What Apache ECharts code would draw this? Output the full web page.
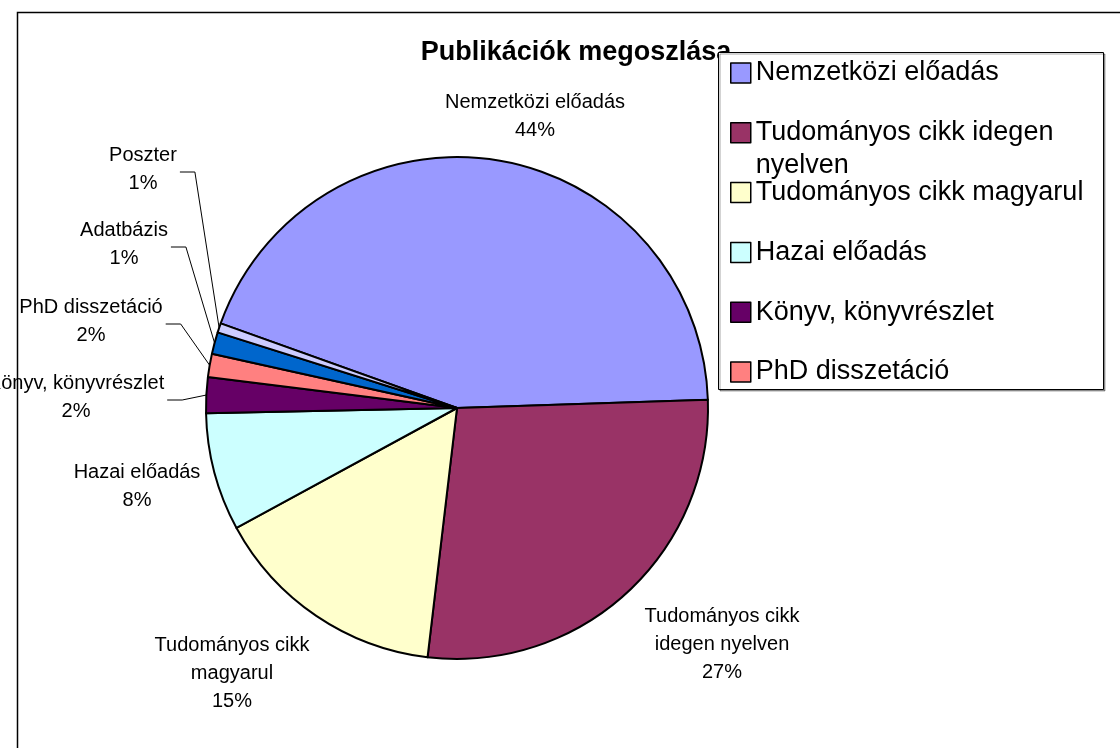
<!DOCTYPE html>
<html>
<head>
<meta charset="utf-8">
<script src="https://cdn.jsdelivr.net/npm/echarts@6/dist/echarts.min.js"></script>
<style>
html,body{margin:0;padding:0;background:#fff;}
#chart{width:1120px;height:748px;}
</style>
</head>
<body>
<div id="chart"></div>
<script>
// ---- data ----
const chartTitle = 'Publikációk megoszlása';
const categories = ['Nemzetközi előadás', 'Tudományos cikk idegen nyelven', 'Tudományos cikk magyarul', 'Hazai előadás', 'Könyv, könyvrészlet', 'PhD disszetáció', 'Adatbázis', 'Poszter'];
const shares = [44.0, 27.4, 15.2, 7.6, 2.3, 1.5, 1.4, 0.6];
const legendCount = 6; // the legend box only shows the first six entries

// ---- styling / layout ----
const colors = ['#9999FF', '#993366', '#FFFFCC', '#CCFFFF', '#660066', '#FF8080', '#0066CC', '#CCCCFF'];
const labelCenters = [[535, 116], [722, 644], [232, 673], [137, 486], [76, 397], [91, 321], [124, 244], [143, 169]];
const hasLeader = [false, false, false, false, true, true, true, true];
const FONT = '"Liberation Sans", Arial, sans-serif';

const measureCtx = document.createElement('canvas').getContext('2d');
function wrapText(text, font, maxWidth) {
  measureCtx.font = font;
  const words = text.split(' ');
  const lines = [];
  let cur = '';
  for (const w of words) {
    const test = cur ? cur + ' ' + w : w;
    if (cur && measureCtx.measureText(test).width > maxWidth) { lines.push(cur); cur = w; }
    else cur = test;
  }
  if (cur) lines.push(cur);
  return lines;
}

const chart = echarts.init(document.getElementById('chart'), null, {renderer: 'canvas'});

const pieData = categories.map((name, i) => ({
  name: name,
  value: shares[i],
  itemStyle: {color: colors[i]},
  labelLine: {show: hasLeader[i]}
}));

const legendLineH = 33;
const legendFont = 27;
const legends = categories.slice(0, legendCount).map((name, i) => {
  const lines = wrapText(name, legendFont + 'px "Liberation Sans"', 345);
  const n = lines.length;
  const text = new Array(n - 1).fill(' ').concat(lines).join('\n');
  const h = (2 * n - 1) * legendLineH;
  return {
    data: [name],
    orient: 'vertical',
    left: 730,
    top: 73 + 59.8 * i - h / 2,
    padding: 0,
    itemWidth: 20,
    itemHeight: 20,
    icon: 'rect',
    z: 20,
    formatter: () => text,
    itemStyle: {borderColor: '#000', borderWidth: 1.5},
    textStyle: {fontSize: legendFont, lineHeight: legendLineH, color: '#000', fontFamily: FONT}
  };
});

const option = {
  animation: false,
  backgroundColor: '#fff',
  color: colors,
  legend: legends,
  graphic: [
    {type: 'rect', z: 0, shape: {x: 17.5, y: 12.5, width: 1200, height: 800}, style: {fill: 'none', stroke: '#000', lineWidth: 1.5}},
    {type: 'text', z: 1, x: 576, y: 53, style: {text: chartTitle, align: 'center', verticalAlign: 'middle', font: 'bold 27px "Liberation Sans", Arial, sans-serif', fill: '#000'}},
    {type: 'rect', z: 10, shape: {x: 718.5, y: 52.5, width: 385, height: 337}, style: {fill: '#fff', stroke: '#000', lineWidth: 1, shadowColor: 'rgba(0,0,0,0.35)', shadowOffsetX: 1.5, shadowOffsetY: 1.5}}
  ],
  series: [{
    type: 'pie',
    center: [457, 408],
    radius: 251,
    startAngle: 160.3,
    clockwise: true,
    avoidLabelOverlap: false,
    minShowLabelAngle: 0,
    z: 2,
    data: pieData,
    itemStyle: {borderColor: '#000', borderWidth: 2},
    emphasis: {disabled: true},
    label: {
      show: true,
      position: 'outside',
      alignTo: 'none',
      fontSize: 20,
      lineHeight: 28,
      color: '#000',
      fontFamily: FONT,
      formatter: (p) => wrapText(p.name, '20px "Liberation Sans"', 186).join('\n') + '\n' + Math.round(p.percent) + '%'
    },
    labelLine: {show: true, length: 10, length2: 15, smooth: false, lineStyle: {color: '#000', width: 1}},
    labelLayout: function (params) {
      const i = params.dataIndex;
      const cx = labelCenters[i][0], cy = labelCenters[i][1];
      const out = {x: cx, y: cy, align: 'center', verticalAlign: 'middle'};
      if (params.labelLinePoints && hasLeader[i]) {
        const anchor = params.labelLinePoints[0];
        const right = cx + params.labelRect.width / 2;
        out.labelLinePoints = [[anchor[0], anchor[1]], [right + 18, cy + 3], [right + 3, cy + 3]];
      }
      return out;
    }
  }]
};
chart.setOption(option);
</script>
</body>
</html>
